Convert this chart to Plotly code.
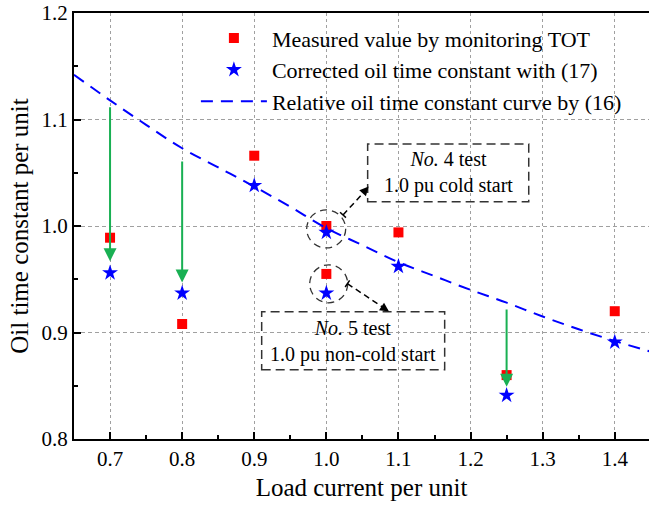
import plotly.graph_objects as go

# ---- data ----
load_pts = [0.7, 0.8, 0.9, 1.0, 1.0, 1.1, 1.25, 1.4]
measured = [0.989, 0.908, 1.066, 1.000, 0.955, 0.994, 0.860, 0.920]
corrected = [0.956, 0.937, 1.038, 0.994, 0.937, 0.962, 0.841, 0.891]

curve_x = [0.65, 0.70, 0.75, 0.80, 0.85, 0.90, 0.95, 1.00, 1.05, 1.10,
           1.15, 1.20, 1.25, 1.30, 1.35, 1.40, 1.45]
curve_y = [1.142, 1.118, 1.095, 1.073, 1.055, 1.037, 1.018, 0.998, 0.982, 0.966,
           0.953, 0.940, 0.928, 0.915, 0.903, 0.892, 0.882]

# green correction arrows: x, start y, end y
arrow_x = [0.7, 0.8, 1.25]
arrow_y0 = [1.113, 1.062, 0.923]
arrow_y1 = [0.967, 0.947, 0.849]

x_ticks = [0.7, 0.8, 0.9, 1.0, 1.1, 1.2, 1.3, 1.4]
x_tick_text = ["0.7", "0.8", "0.9", "1.0", "1.1", "1.2", "1.3", "1.4"]
y_ticks = [0.8, 0.9, 1.0, 1.1, 1.2]
y_tick_text = ["0.8", "0.9", "1.0", "1.1", "1.2"]

names = ["Measured value by monitoring TOT",
         "Corrected oil time constant with (17)",
         "Relative oil time constant curve by (16)"]

FONT = "Liberation Serif"

fig = go.Figure()
fig.add_trace(go.Scatter(x=load_pts, y=measured, mode="markers", name=names[0],
                         marker=dict(symbol="square", size=10, color="#ff0000")))
fig.add_trace(go.Scatter(x=load_pts, y=corrected, mode="markers", name=names[1],
                         marker=dict(symbol="star", size=12, color="#0000ff",
                                     line=dict(width=0))))
fig.add_trace(go.Scatter(x=curve_x, y=curve_y, mode="lines", name=names[2],
                         line=dict(color="#0000ff", width=2, dash="12px,8px", shape="spline")))

shapes = []
annotations = []

# green arrows
for xa, ya0, ya1 in zip(arrow_x, arrow_y0, arrow_y1):
    annotations.append(dict(x=xa, y=ya1, ax=xa, ay=ya0, xref="x", yref="y",
                            axref="x", ayref="y", text="", showarrow=True,
                            arrowhead=2, arrowsize=1.3, arrowwidth=2,
                            arrowcolor="#19b053", standoff=0))

dash_col = "#333333"
# dashed circles
shapes.append(dict(type="circle", xref="x", yref="y", x0=0.9727, x1=1.0268,
                   y0=0.9794, y1=1.0151, line=dict(color=dash_col, width=1.3, dash="7px,5px")))
shapes.append(dict(type="circle", xref="x", yref="y", x0=0.9769, x1=1.0296,
                   y0=0.9279, y1=0.9635, line=dict(color=dash_col, width=1.3, dash="7px,5px")))
# dashed boxes
shapes.append(dict(type="rect", xref="x", yref="y", x0=1.0573, x1=1.2807,
                   y0=1.0228, y1=1.0770, line=dict(color=dash_col, width=1.5, dash="9px,5px")))
shapes.append(dict(type="rect", xref="x", yref="y", x0=0.9103, x1=1.1641,
                   y0=0.8650, y1=0.9194, line=dict(color=dash_col, width=1.5, dash="9px,5px")))
# dashed arrow shafts
shapes.append(dict(type="line", xref="x", yref="y", x0=1.0231, y0=1.0104,
                   x1=1.0560, y1=1.0345, line=dict(color="black", width=1.5, dash="6px,4px")))
shapes.append(dict(type="line", xref="x", yref="y", x0=1.0292, y0=0.9458,
                   x1=1.0840, y1=0.9213, line=dict(color="black", width=1.5, dash="6px,4px")))
# tail bars
shapes.append(dict(type="line", xref="x", yref="y", x0=1.0272, y0=1.0079,
                   x1=1.0190, y1=1.0129, line=dict(color="black", width=1.5)))
shapes.append(dict(type="line", xref="x", yref="y", x0=1.0261, y0=0.9427,
                   x1=1.0323, y1=0.9489, line=dict(color="black", width=1.5)))
# arrow heads
annotations.append(dict(x=1.0587, y=1.0370, ax=1.0494, ay=1.0301, xref="x", yref="y",
                        axref="x", ayref="y", text="", showarrow=True, arrowhead=2,
                        arrowsize=1.2, arrowwidth=1.5, arrowcolor="black", standoff=0))
annotations.append(dict(x=1.0869, y=0.9197, ax=1.0754, ay=0.9249, xref="x", yref="y",
                        axref="x", ayref="y", text="", showarrow=True, arrowhead=2,
                        arrowsize=1.2, arrowwidth=1.5, arrowcolor="black", standoff=0))
# box texts
annotations.append(dict(x=1.169, y=1.0498, xref="x", yref="y", showarrow=False,
                        text="<i>No.</i> 4 test<br>1.0 pu cold start",
                        font=dict(family=FONT, size=20, color="black")))
annotations.append(dict(x=1.0372, y=0.8913, xref="x", yref="y", showarrow=False,
                        text="<i>No.</i> 5 test<br>1.0 pu non-cold start",
                        font=dict(family=FONT, size=20, color="black")))

fig.update_layout(
    width=649, height=506,
    margin=dict(l=74, r=0, t=13, b=67),
    paper_bgcolor="white", plot_bgcolor="white",
    font=dict(family=FONT, size=21, color="black"),
    showlegend=True,
    legend=dict(x=0.212, y=0.99, xanchor="left", yanchor="top",
                bgcolor="rgba(0,0,0,0)", font=dict(family=FONT, size=22),
                itemwidth=66, tracegroupgap=0),
    shapes=shapes, annotations=annotations,
)
fig.update_xaxes(range=[0.65, 1.4475], tickvals=x_ticks, ticktext=x_tick_text,
                 showline=True, linecolor="black", linewidth=2, mirror=True,
                 ticks="inside", ticklen=7, tickwidth=1.5, tickcolor="black",
                 showgrid=True, gridcolor="#a0a0a0", gridwidth=1, griddash="dot",
                 minor=dict(tickvals=[0.75, 0.85, 0.95, 1.05, 1.15, 1.25, 1.35],
                            ticks="inside", ticklen=4, tickwidth=1.5, tickcolor="black",
                            showgrid=False),
                 zeroline=False,
                 title=dict(text="Load current per unit", standoff=8))
fig.update_yaxes(range=[0.8, 1.2], tickvals=y_ticks, ticktext=y_tick_text,
                 showline=True, linecolor="black", linewidth=2, mirror=False,
                 ticks="inside", ticklen=7, tickwidth=1.5, tickcolor="black",
                 showgrid=True, gridcolor="#a0a0a0", gridwidth=1, griddash="4px,3px",
                 minor=dict(tickvals=[0.85, 0.95, 1.05, 1.15],
                            ticks="inside", ticklen=4, tickwidth=1.5, tickcolor="black",
                            showgrid=False),
                 zeroline=False,
                 title=dict(text="Oil time constant per unit", standoff=6))

fig.write_html("out.html")
